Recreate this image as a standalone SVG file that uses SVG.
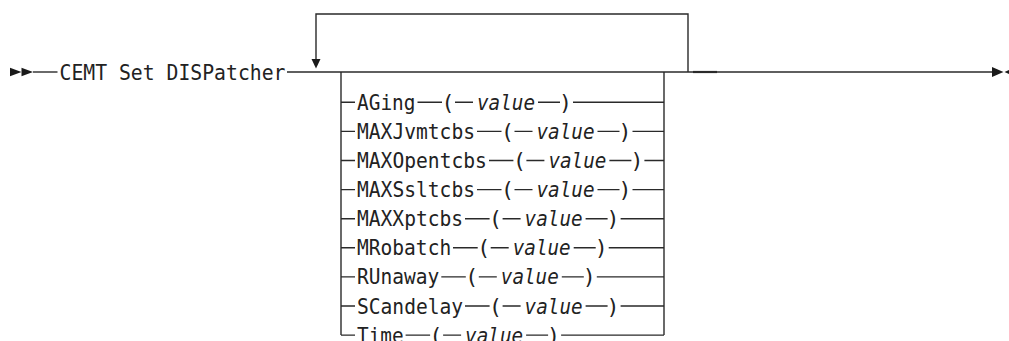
<svg xmlns="http://www.w3.org/2000/svg" width="1009" height="341" viewBox="0 0 1009 341">
<style>
.ln{stroke:#2a2a2a;stroke-width:1.4;fill:none}
.ar{fill:#1a1a1a}
.t{font-family:"DejaVu Sans Mono","Liberation Mono",monospace;font-size:21.5px;fill:#222}
.v{font-style:italic}
.p{text-anchor:middle}
</style>
<rect width="1009" height="341" fill="#fff"/>
<g id="connectors">
  <polygon class="ar" points="10,67.8 21.5,72 10,76.2"/>
  <polygon class="ar" points="21.5,67.8 33,72 21.5,76.2"/>
  <line class="ln" x1="33" y1="72" x2="57.5" y2="72"/>
  <line class="ln" x1="287" y1="72" x2="993" y2="72"/>
  <line class="ln" x1="693" y1="72" x2="717" y2="72" style="stroke-width:2.2"/>
  <polyline class="ln" points="316,59 316,14 688,14 688,72"/>
  <polygon class="ar" points="311.5,59 320.5,59 316,68.5"/>
  <polygon class="ar" points="992,67 1003.5,72 992,77"/>
  <polygon class="ar" points="1016,67 1004.5,72 1016,77"/>
  <line class="ln" x1="341" y1="72" x2="341" y2="335.1"/>
  <line class="ln" x1="664" y1="72" x2="664" y2="335.1"/>
  <path class="ln" d="M341 102.3H355M417.5 102.3H442M455 102.3H473M538 102.3H560M573 102.3H664"/>
  <path class="ln" d="M341 131.4H355M477 131.4H501.5M514.5 131.4H532.5M597.5 131.4H619.5M632.5 131.4H664"/>
  <path class="ln" d="M341 160.5H355M489 160.5H513.4M526.4 160.5H544.4M609.4 160.5H631.4M644.4 160.5H664"/>
  <path class="ln" d="M341 189.6H355M477 189.6H501.5M514.5 189.6H532.5M597.5 189.6H619.5M632.5 189.6H664"/>
  <path class="ln" d="M341 218.7H355M465 218.7H489.6M502.6 218.7H520.6M585.6 218.7H607.6M620.6 218.7H664"/>
  <path class="ln" d="M341 247.8H355M453 247.8H477.7M490.7 247.8H508.7M573.7 247.8H595.7M608.7 247.8H664"/>
  <path class="ln" d="M341 276.9H355M441.3 276.9H465.8M478.8 276.9H496.8M561.8 276.9H583.8M596.8 276.9H664"/>
  <path class="ln" d="M341 306H355M465 306H489.6M502.6 306H520.6M585.6 306H607.6M620.6 306H664"/>
  <path class="ln" d="M341 335.1H355M405.6 335.1H430.1M443.1 335.1H461.1M526.1 335.1H548.1M561.1 335.1H664"/>
</g>
<g id="cmd"><text class="t" x="59.5" y="79.5" textLength="226" lengthAdjust="spacingAndGlyphs">CEMT Set DISPatcher</text></g>
<g id="aging">
  <text class="t" x="357" y="109.8" textLength="58.5" lengthAdjust="spacingAndGlyphs">AGing</text>
  <text class="t p" x="448" y="109.8">(</text>
  <text class="t v" x="477" y="109.8" textLength="58" lengthAdjust="spacingAndGlyphs">value</text>
  <text class="t p" x="565.5" y="109.8">)</text>
</g>
<g id="maxjvmtcbs">
  <text class="t" x="357" y="138.9" textLength="118" lengthAdjust="spacingAndGlyphs">MAXJvmtcbs</text>
  <text class="t p" x="507.5" y="138.9">(</text>
  <text class="t v" x="536.5" y="138.9" textLength="58" lengthAdjust="spacingAndGlyphs">value</text>
  <text class="t p" x="625" y="138.9">)</text>
</g>
<g id="maxopentcbs">
  <text class="t" x="357" y="168" textLength="129.9" lengthAdjust="spacingAndGlyphs">MAXOpentcbs</text>
  <text class="t p" x="519.4" y="168">(</text>
  <text class="t v" x="548.4" y="168" textLength="58" lengthAdjust="spacingAndGlyphs">value</text>
  <text class="t p" x="636.9" y="168">)</text>
</g>
<g id="maxssltcbs">
  <text class="t" x="357" y="197.1" textLength="118" lengthAdjust="spacingAndGlyphs">MAXSsltcbs</text>
  <text class="t p" x="507.5" y="197.1">(</text>
  <text class="t v" x="536.5" y="197.1" textLength="58" lengthAdjust="spacingAndGlyphs">value</text>
  <text class="t p" x="625" y="197.1">)</text>
</g>
<g id="maxxptcbs">
  <text class="t" x="357" y="226.2" textLength="106.1" lengthAdjust="spacingAndGlyphs">MAXXptcbs</text>
  <text class="t p" x="495.6" y="226.2">(</text>
  <text class="t v" x="524.6" y="226.2" textLength="58" lengthAdjust="spacingAndGlyphs">value</text>
  <text class="t p" x="613.1" y="226.2">)</text>
</g>
<g id="mrobatch">
  <text class="t" x="357" y="255.3" textLength="94.2" lengthAdjust="spacingAndGlyphs">MRobatch</text>
  <text class="t p" x="483.7" y="255.3">(</text>
  <text class="t v" x="512.7" y="255.3" textLength="58" lengthAdjust="spacingAndGlyphs">value</text>
  <text class="t p" x="601.2" y="255.3">)</text>
</g>
<g id="runaway">
  <text class="t" x="357" y="284.4" textLength="82.3" lengthAdjust="spacingAndGlyphs">RUnaway</text>
  <text class="t p" x="471.8" y="284.4">(</text>
  <text class="t v" x="500.8" y="284.4" textLength="58" lengthAdjust="spacingAndGlyphs">value</text>
  <text class="t p" x="589.3" y="284.4">)</text>
</g>
<g id="scandelay">
  <text class="t" x="357" y="313.5" textLength="106.1" lengthAdjust="spacingAndGlyphs">SCandelay</text>
  <text class="t p" x="495.6" y="313.5">(</text>
  <text class="t v" x="524.6" y="313.5" textLength="58" lengthAdjust="spacingAndGlyphs">value</text>
  <text class="t p" x="613.1" y="313.5">)</text>
</g>
<g id="time">
  <text class="t" x="357" y="342.6" textLength="46.6" lengthAdjust="spacingAndGlyphs">Time</text>
  <text class="t p" x="436.1" y="342.6">(</text>
  <text class="t v" x="465.1" y="342.6" textLength="58" lengthAdjust="spacingAndGlyphs">value</text>
  <text class="t p" x="553.6" y="342.6">)</text>
</g>
</svg>
